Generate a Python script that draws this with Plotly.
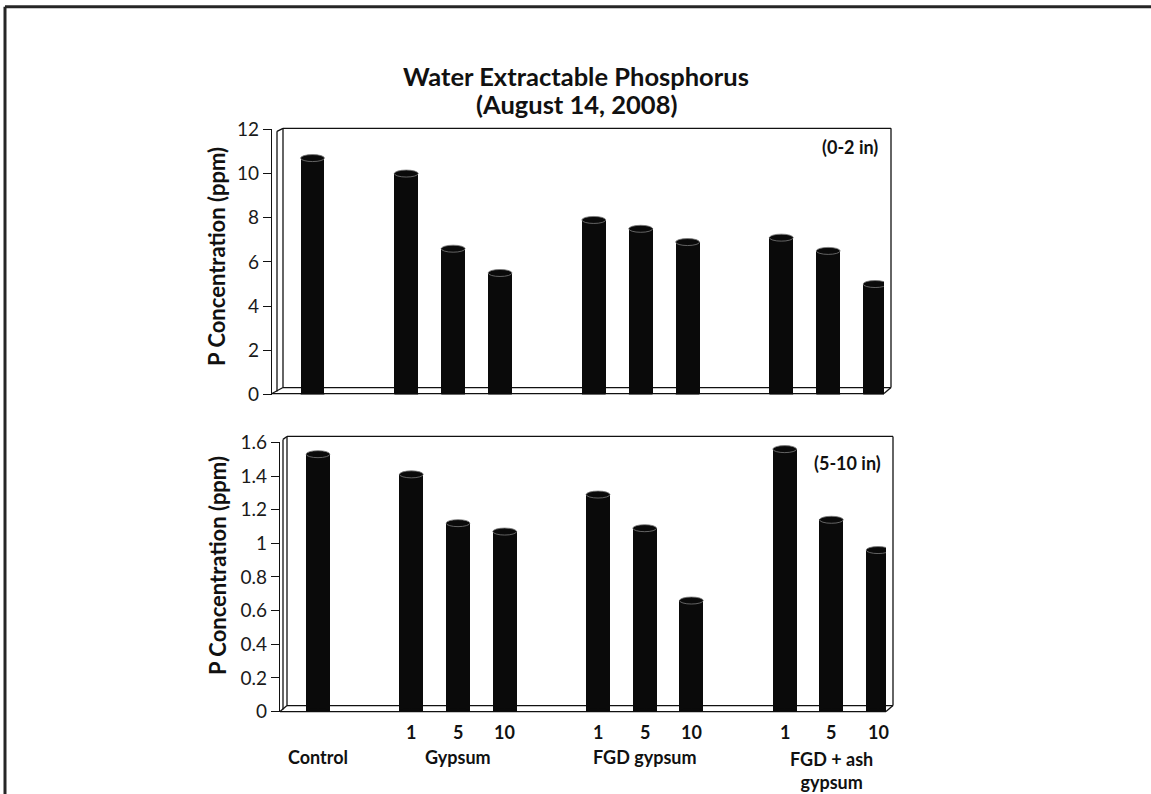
import plotly.graph_objects as go

# Treatment groups and application rates (tons/acre)
groups = ["Control", "Gypsum", "FGD gypsum", "FGD + ash<br>gypsum"]
rates = [[""], ["1", "5", "10"], ["1", "5", "10"], ["1", "5", "10"]]

# Water extractable P (ppm), in bar order
p_0_2in = [10.7, 10.0, 6.6, 5.5, 7.9, 7.5, 6.9, 7.1, 6.5, 5.0]
p_5_10in = [1.53, 1.41, 1.12, 1.07, 1.29, 1.09, 0.66, 1.56, 1.14, 0.96]

top_ticks = [0, 2, 4, 6, 8, 10, 12]
bot_ticks = [0, 0.2, 0.4, 0.6, 0.8, 1.0, 1.2, 1.4, 1.6]
bot_ticktext = ["0", "0.2", "0.4", "0.6", "0.8", "1", "1.2", "1.4", "1.6"]

W, H = 1151, 794
FONT = "Lato"

# page-to-paper vertical calibration (page has a small top offset)
Y_OFF, Y_SCALE = 10.3, 0.974


def px(x):
    return x / W


def py(y):
    return 1 - (y - Y_OFF) / (Y_SCALE * H)


# Slot positions: groups separated by one empty slot
slots, rate_labels, group_centers = [], [], []
pos = 0
for g, rs in zip(groups, rates):
    start = pos
    for r in rs:
        slots.append(pos)
        rate_labels.append(r)
        pos += 1
    group_centers.append((start + pos - 1) / 2)
    pos += 1

BAR_W = 0.51
BAR_COLOR = "#0a0a0a"

fig = go.Figure()
fig.add_trace(go.Bar(x=slots, y=p_0_2in, width=BAR_W, xaxis="x", yaxis="y",
                     marker=dict(color=BAR_COLOR, line=dict(width=0)),
                     showlegend=False, hoverinfo="y"))
fig.add_trace(go.Bar(x=slots, y=p_5_10in, width=BAR_W, xaxis="x2", yaxis="y2",
                     marker=dict(color=BAR_COLOR, line=dict(width=0)),
                     showlegend=False, hoverinfo="y"))

shapes = []

# Cylinder caps (top) and rounded bases
for xr, yr, vals in (("x", "y", p_0_2in), ("x2", "y2", p_5_10in)):
    for s, v in zip(slots, vals):
        shapes.append(dict(type="circle", xref=xr, yref=yr,
                           x0=s - BAR_W / 2, x1=s + BAR_W / 2,
                           ysizemode="pixel", yanchor=0, y0=-3.5, y1=3.5,
                           fillcolor=BAR_COLOR, line=dict(width=0), layer="above"))
        shapes.append(dict(type="circle", xref=xr, yref=yr,
                           x0=s - BAR_W / 2, x1=s + BAR_W / 2,
                           ysizemode="pixel", yanchor=v, y0=-3.5, y1=3.5,
                           fillcolor=BAR_COLOR, line=dict(color="#7a7a7a", width=0.8),
                           layer="above"))

LINE = dict(color="#111111", width=1.3)


def seg(x0, y0, x1, y1, layer="below", line=LINE):
    shapes.append(dict(type="line", xref="paper", yref="paper",
                       x0=px(x0), y0=py(y0), x1=px(x1), y1=py(y1),
                       line=line, layer=layer))


def frame(ax, top, back_l, back_r, back_floor, front_floor, front_r, slab_x):
    # back wall
    seg(back_l, top, back_r, top)
    seg(back_r, top, back_r, back_floor)
    seg(back_l, top, back_l, back_floor)
    seg(back_l, back_floor, back_r, back_floor)
    # left wall slab edge
    seg(slab_x, top + 3, slab_x, front_floor - 2)
    seg(slab_x, top + 3, back_l, top)
    # front floor edge
    seg(ax, front_floor, front_r, front_floor)
    seg(front_r, front_floor, back_r, back_floor)
    seg(ax, front_floor, back_l, back_floor)


frame(272, 127, 283, 891, 387, 393, 884, 277)
frame(280, 436, 287, 893, 706, 712, 886, 283)

# Outer border of the figure
BORDER = dict(color="#262626", width=3)
seg(5, 5, W + 2, 5, layer="above", line=BORDER)
seg(5, 5, 5, H + 30, layer="above", line=BORDER)


def label(text, x, y, size, xref="paper", angle=0, yanchor="middle", yshift=0):
    return dict(text=text, x=x, xref=xref, y=py(y), yref="paper", textangle=angle,
                showarrow=False, xanchor="center", yanchor=yanchor, yshift=yshift,
                font=dict(family=FONT, size=size, color="#111111"))


annotations = [
    label("<b>Water Extractable Phosphorus</b>", px(576), 74, 25.5),
    label("<b>(August 14, 2008)</b>", px(576), 103, 25.5),
    label("<b>P Concentration (ppm)</b>", px(217), 256, 22, angle=-90),
    label("<b>P Concentration (ppm)</b>", px(217), 566, 22, angle=-90),
    label("<b>(0-2 in)</b>", px(850), 146, 18),
    label("<b>(5-10 in)</b>", px(847), 463, 18),
]

# Rate labels under the lower panel
for s, r in zip(slots, rate_labels):
    if r:
        annotations.append(label(f"<b>{r}</b>", s, 733, 18, xref="x2"))
# Group labels
for g, c in zip(groups, group_centers):
    if "<br>" in g:
        annotations.append(label(f"<b>{g}</b>", c, 747, 18, xref="x2", yanchor="top"))
    else:
        annotations.append(label(f"<b>{g}</b>", c, 758, 18, xref="x2"))

yax_common = dict(showline=True, linecolor="#111111", linewidth=1.3,
                  ticks="outside", ticklen=8, tickwidth=1.3, tickcolor="#111111",
                  showgrid=False, zeroline=False,
                  tickfont=dict(family=FONT, size=19, color="#1a1a1a"))

fig.update_layout(
    width=W, height=H,
    margin=dict(l=0, r=0, t=0, b=0),
    paper_bgcolor="white", plot_bgcolor="rgba(0,0,0,0)",
    bargap=0,
    xaxis=dict(domain=[px(272), px(884)], range=[-0.864, 12.19], anchor="y",
               showticklabels=False, showgrid=False, zeroline=False, ticks="",
               showline=False),
    yaxis=dict(domain=[py(394), py(128)], range=[0, 12], anchor="x",
               tickvals=top_ticks, **yax_common),
    xaxis2=dict(domain=[px(280), px(886)], range=[-0.814, 12.17], anchor="y2",
                showticklabels=False, showgrid=False, zeroline=False, ticks="",
                showline=False),
    yaxis2=dict(domain=[py(712), py(442)], range=[0, 1.6], anchor="x2",
                tickvals=bot_ticks, ticktext=bot_ticktext, **yax_common),
    shapes=shapes,
    annotations=annotations,
)

fig.write_html("out.html")
